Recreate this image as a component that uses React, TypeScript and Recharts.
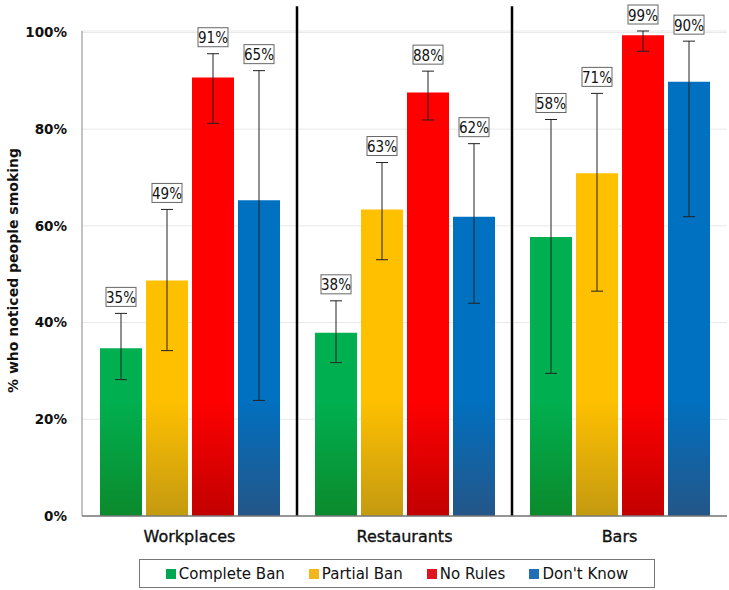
import React from 'react';
import { BarChart, Bar, XAxis, YAxis, CartesianGrid, ErrorBar, LabelList, ReferenceLine } from 'recharts';

const categories = ['Workplaces', 'Restaurants', 'Bars'];

const completeBan = [34.7, 37.9, 57.7];
const completeBanLow = [28.2, 31.7, 29.5];
const completeBanHigh = [41.9, 44.5, 82.0];

const partialBan = [48.7, 63.4, 70.9];
const partialBanLow = [34.2, 53.0, 46.5];
const partialBanHigh = [63.4, 73.1, 87.4];

const noRules = [90.7, 87.6, 99.4];
const noRulesLow = [81.2, 81.9, 96.1];
const noRulesHigh = [95.6, 92.0, 100.3];

const dontKnow = [65.3, 61.9, 89.8];
const dontKnowLow = [23.9, 44.0, 61.9];
const dontKnowHigh = [92.1, 77.0, 98.2];

const yTicks = [0, 20, 40, 60, 80, 100];
// category boundaries get a black divider line at the start of these bands
const dividedCategories = ['Restaurants', 'Bars'];

const series = [
  { key: 'complete', name: 'Complete Ban', values: completeBan, low: completeBanLow, high: completeBanHigh, top: '#00B050', bottom: '#0B8A2C', legend: '#00A651' },
  { key: 'partial', name: 'Partial Ban', values: partialBan, low: partialBanLow, high: partialBanHigh, top: '#FFC000', bottom: '#C49A10', legend: '#F2B51C' },
  { key: 'none', name: 'No Rules', values: noRules, low: noRulesLow, high: noRulesHigh, top: '#FF0000', bottom: '#C20000', legend: '#E0141E' },
  { key: 'dk', name: "Don't Know", values: dontKnow, low: dontKnowLow, high: dontKnowHigh, top: '#0070C0', bottom: '#245688', legend: '#1F6FB5' },
];

const data = categories.map((name, i) => {
  const row: any = { name };
  series.forEach((s) => {
    row[s.key] = s.values[i];
    row[s.key + 'Err'] = [s.values[i] - s.low[i], s.high[i] - s.values[i]];
  });
  return row;
});

const sansFont = "'DejaVu Sans', Verdana, sans-serif";
const labelFont = "'Liberation Sans Narrow', 'DejaVu Sans Condensed', 'Liberation Sans', sans-serif";

const boxLabel = (high: number[]) => (props: any) => {
  const { x, y, width, height, value, index } = props;
  const unit = height / value;
  const errTop = y + height - high[index] * unit;
  const cx = x + width / 2;
  const bw = 30;
  const bh = 19;
  const by = errTop - 7 - bh;
  return (
    <g>
      <rect x={cx - bw / 2} y={by} width={bw} height={bh} fill="#fff" stroke="#666" strokeWidth={1} />
      <text x={cx} y={by + bh / 2 + 1} textAnchor="middle" dominantBaseline="central" fontSize={15} fontFamily={labelFont} fill="#111">
        {Math.round(value)}%
      </text>
    </g>
  );
};

export default function App() {
  return (
    <div style={{ position: 'absolute', left: 0, top: 0, width: 729, height: 590, background: '#fff' }}>
      <BarChart
        width={729}
        height={590}
        data={data}
        margin={{ top: 31, right: 2, bottom: 44, left: 0 }}
        barCategoryGap={18}
        barGap={4}
      >
        <defs>
          {series.map((s) => (
            <linearGradient key={s.key} id={'grad-' + s.key} gradientUnits="userSpaceOnUse" x1="0" y1="400" x2="0" y2="516">
              <stop offset="0" stopColor={s.top} />
              <stop offset="1" stopColor={s.bottom} />
            </linearGradient>
          ))}
        </defs>
        <CartesianGrid vertical={false} stroke="#e8e8e8" />
        <XAxis
          dataKey="name"
          tickLine={false}
          tickSize={0}
          tickMargin={15}
          axisLine={{ stroke: '#777', strokeWidth: 1.5 }}
          tick={{ fontSize: 16, fontFamily: sansFont, fill: '#111', stroke: '#111', strokeWidth: 0.35 }}
        />
        <YAxis
          width={82}
          domain={[0, 100]}
          ticks={yTicks}
          tickFormatter={(v) => v + '%'}
          tickLine={false}
          tickSize={0}
          tickMargin={15}
          axisLine={{ stroke: '#888' }}
          tick={{ fontSize: 13.5, fontWeight: 'bold', fontFamily: sansFont, fill: '#111' }}
          label={{
            content: (p: any) => {
              const vb = p.viewBox;
              const cx = vb.x + 13;
              const cy = vb.y + vb.height / 2 - 3;
              return (
                <text x={cx} y={cy} transform={`rotate(-90 ${cx} ${cy})`} textAnchor="middle" dominantBaseline="central" fontSize={14} fontWeight="bold" fontFamily={sansFont} fill="#111">
                  % who noticed people smoking
                </text>
              );
            },
          }}
        />
        {series.map((s) => (
          <Bar key={s.key} dataKey={s.key} name={s.name} fill={`url(#grad-${s.key})`} isAnimationActive={false}>
            <ErrorBar dataKey={s.key + 'Err'} width={6} stroke="#222" strokeWidth={1} />
            <LabelList dataKey={s.key} content={boxLabel(s.high)} />
          </Bar>
        ))}
        {dividedCategories.map((c) => (
          <ReferenceLine
            key={c}
            segment={[{ x: c, y: 0 }, { x: c, y: 105.4 }]}
            position="start"
            stroke="#000"
            strokeWidth={2.5}
            ifOverflow="visible"
          />
        ))}
      </BarChart>
      <div
        style={{
          position: 'absolute',
          left: 139,
          top: 559,
          width: 514,
          height: 27,
          border: '1px solid #777',
          display: 'flex',
          alignItems: 'center',
          justifyContent: 'center',
          gap: 24,
          fontFamily: sansFont,
          fontSize: 15,
          color: '#111',
        }}
      >
        {series.map((s) => (
          <div key={s.key} style={{ display: 'flex', alignItems: 'center' }}>
            <span style={{ display: 'inline-block', width: 10, height: 10, background: s.legend, marginRight: 3 }} />
            <span>{s.name}</span>
          </div>
        ))}
      </div>
    </div>
  );
}
